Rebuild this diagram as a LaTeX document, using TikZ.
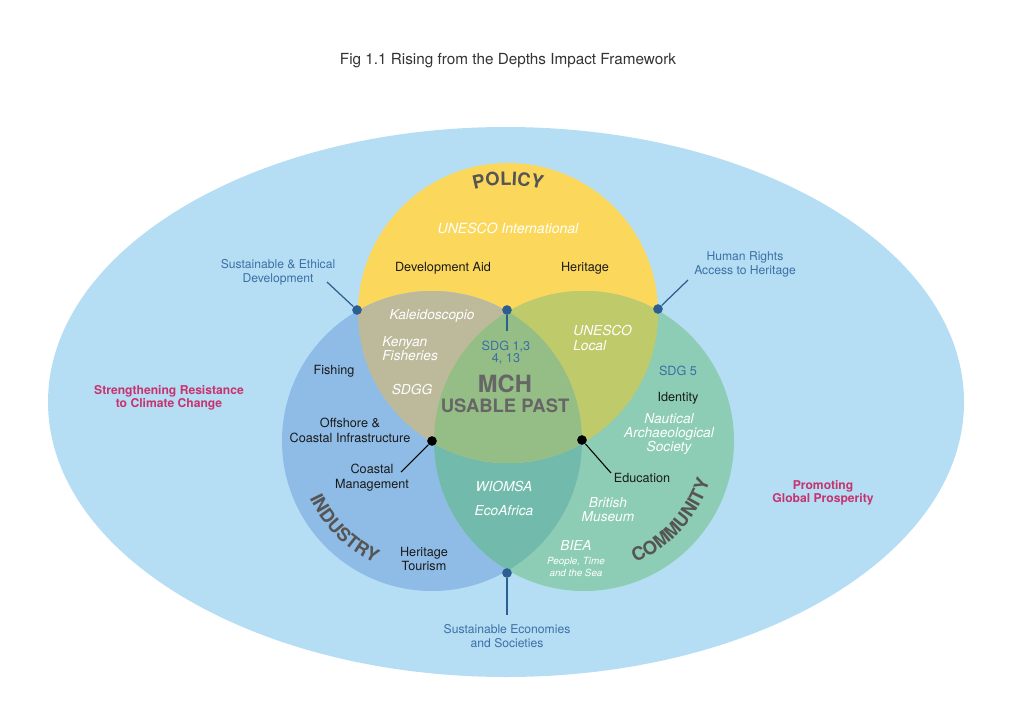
\documentclass[tikz,border=0pt]{standalone}
\usepackage{fontspec}
\setmainfont{TeX Gyre Heros}
\usetikzlibrary{decorations.text}

\definecolor{seablue}{HTML}{B5DEF4}
\definecolor{polyellow}{HTML}{FBD85B}
\definecolor{indblue}{HTML}{8FBCE6}
\definecolor{comgreen}{HTML}{8DCDB5}
\definecolor{polind}{HTML}{BDBA9C}
\definecolor{polcom}{HTML}{BFCA6B}
\definecolor{indcom}{HTML}{72BBAC}
\definecolor{coregreen}{HTML}{94BE86}
\definecolor{linkblue}{HTML}{3C6FA6}
\definecolor{dotblue}{HTML}{2D5E92}
\definecolor{goalpink}{HTML}{C6336F}
\definecolor{headgrey}{HTML}{555555}

\begin{document}
\begin{tikzpicture}[x=0.02cm, y=0.02cm,
        every node/.style={inner sep=0pt},
        actor/.style={font=\fontsize{7.2}{8.5}\selectfont, text=black!90, align=center},
        partner/.style={font=\fontsize{7.8}{8}\selectfont\itshape, text=white, align=center},
        link/.style={font=\fontsize{6.9}{8}\selectfont, text=linkblue, align=center},
        goal/.style={font=\fontsize{6.9}{7.6}\selectfont\bfseries, text=goalpink, align=center},
        pin/.style={circle, fill=dotblue, minimum size=5.5pt},
        blackpin/.style={circle, fill=black, minimum size=5.5pt},
        pinline/.style={dotblue, line width=0.7pt},
        arclabel/.style={decorate, decoration={text along path, text align=center,
            text color=headgrey, text={|\fontsize{10.5}{12}\selectfont\bfseries|#1}}}
    ]
    \useasboundingbox (0,0) rectangle (1024,725);

    % circle centres
    \coordinate (pol) at (508,412);
    \coordinate (ind) at (432,284);
    \coordinate (com) at (584,284);

    % outer field and the three circles
    \fill[seablue] (506,323) ellipse[x radius=458, y radius=275];
    \fill[polyellow] (pol) circle[radius=150];
    \fill[indblue] (ind) circle[radius=150];
    \fill[comgreen] (com) circle[radius=150];
    \begin{scope}
        \clip (ind) circle[radius=150];
        \fill[indcom] (com) circle[radius=150];
    \end{scope}
    \begin{scope}
        \clip (pol) circle[radius=150];
        \fill[polind] (ind) circle[radius=150];
        \fill[polcom] (com) circle[radius=150];
        \clip (ind) circle[radius=150];
        \fill[coregreen] (com) circle[radius=150];
    \end{scope}

    % circle headings
    \path[arclabel=POLICY] (pol) ++(125:128) arc[start angle=125, end angle=55, radius=128];
    \path[arclabel=INDUSTRY] (ind) ++(195:135) arc[start angle=195, end angle=255, radius=135];
    \path[arclabel=COMMUNITY] (com) ++(-85:132) arc[start angle=-85, end angle=0, radius=132];

    \node[font=\fontsize{8.7}{10}\selectfont, text=black!80] (title) at (508,664) {Fig 1.1 Rising from the Depths Impact Framework};

    % policy
    \node[partner, font=\fontsize{8}{9}\selectfont\itshape] (unint) at (508,497) {UNESCO International};
    \node[actor] (devaid) at (443,457) {Development Aid};
    \node[actor] (heritage) at (585,457) {Heritage};

    % policy / industry
    \node[partner] (kaleido) at (432,409) {Kaleidoscopio};
    \node[partner, anchor=west, align=left] (kenyan) at (382,376) {Kenyan\\Fisheries};
    \node[partner] (sdgg) at (412,335) {SDGG};

    % policy / community
    \node[partner, anchor=west, align=left] (unlocal) at (573,387) {UNESCO\\Local};

    % centre
    \node[link, font=\fontsize{7.2}{7}\selectfont] (sdgmid) at (506,372) {SDG 1,3\\4, 13};
    \node[font=\fontsize{13.5}{14}\selectfont\bfseries, text=black!60] (mch) at (505,341) {MCH};
    \node[font=\fontsize{10.5}{12}\selectfont\bfseries, text=black!60] (usable) at (505,319) {USABLE PAST};

    % industry
    \node[actor] (fishing) at (334,354) {Fishing};
    \node[actor] (offshore) at (350,295) {Offshore \&\\Coastal Infrastructure};
    \node[actor] (coastal) at (372,247) {Coastal\\Management};
    \node[actor] (tourism) at (424,166) {Heritage\\Tourism};

    % community
    \node[link, font=\fontsize{7.2}{8}\selectfont] (sdgfive) at (678,354) {SDG 5};
    \node[actor] (identity) at (678,327) {Identity};
    \node[partner] (nautical) at (669,291) {Nautical\\Archaeological\\Society};
    \node[actor] (education) at (642,247) {Education};
    \node[partner] (british) at (608,215) {British\\Museum};
    \node[partner] (biea) at (576,180) {BIEA};
    \node[partner, font=\fontsize{5.6}{6.8}\selectfont\itshape] (people) at (576,158) {People, Time\\and the Sea};

    % industry / community
    \node[partner] (wiomsa) at (504,239) {WIOMSA};
    \node[partner] (ecoafrica) at (504,214) {EcoAfrica};

    % outer labels
    \node[link] (ethical) at (278,453) {Sustainable \& Ethical\\Development};
    \node[link] (rights) at (745,461) {Human Rights\\Access to Heritage};
    \node[link] (economies) at (507,89) {Sustainable Economies\\and Societies};
    \node[goal] (climate) at (169,327) {Strengthening Resistance\\to Climate Change};
    \node[goal] (prosperity) at (823,232) {Promoting\\Global Prosperity};

    % pins and their leaders
    \node[pin] (ethicaldot) at (357,415) {};
    \node[pin] (rightsdot) at (658,416) {};
    \node[pin] (sdgdot) at (507,415) {};
    \node[pin] (economiesdot) at (507,152) {};
    \node[blackpin] (coastaldot) at (432,284) {};
    \node[blackpin] (educationdot) at (582,285) {};
    \coordinate (ethicalend) at (327,443);
    \coordinate (rightsend) at (688,445);
    \coordinate (sdgend) at (507,394);
    \coordinate (economiesend) at (507,110);
    \coordinate (coastalend) at (401,253);
    \coordinate (educationend) at (611,252);
    \draw[pinline] (ethicaldot) -- (ethicalend);
    \draw[pinline] (rightsdot) -- (rightsend);
    \draw[pinline] (sdgdot) -- (sdgend);
    \draw[pinline] (economiesdot) -- (economiesend);
    \draw[line width=0.6pt] (coastaldot) -- (coastalend);
    \draw[line width=0.6pt] (educationdot) -- (educationend);
\end{tikzpicture}
\end{document}
